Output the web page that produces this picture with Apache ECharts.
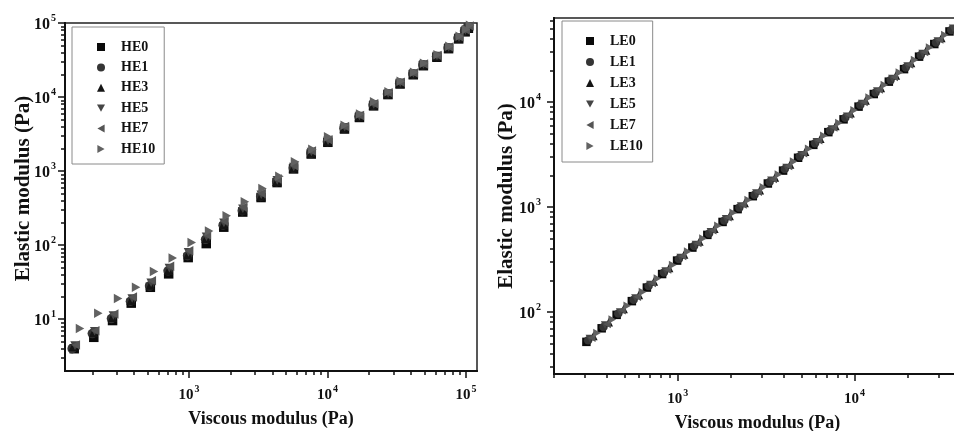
<!DOCTYPE html>
<html><head><meta charset="utf-8">
<script src="https://cdn.jsdelivr.net/npm/echarts@6/dist/echarts.min.js"></script>
<style>html,body{margin:0;padding:0;background:#fff}#c{width:954px;height:431px}</style>
</head><body><div id="c"></div>
<script>
// ---------- data ----------
const heNames = ['HE0','HE1','HE3','HE5','HE7','HE10'];
const leNames = ['LE0','LE1','LE3','LE5','LE7','LE10'];

const HE0_x = [148,205,280,382,525,712,985,1330,1780,2440,3310,4320,5680,7620,10050,13250,17000,21500,27300,33400,41600,49200,61600,74800,88500,98500,104000];
const HE0_y = [4.0,5.7,9.6,16.5,27,41,68,105,175,280,440,700,1070,1700,2450,3700,5300,7600,10800,15000,20000,26500,34500,45000,61000,76000,85000];
const HE1_x = [143,200,275,377,518,705,975,1315,1760,2420,3290,4290,5650,7580,9980,13150,16850,21300,27100,33200,41300,48800,61200,74200,87500,97500,102500];
const HE1_y = [4.0,6.4,10.2,17.5,28,45,72,120,186,292,455,720,1100,1750,2500,3800,5450,7800,11000,15400,20500,27200,35300,46000,62500,78000,87000];
const HE3_x = [146,204,279,381,524,710,980,1325,1772,2432,3305,4305,5670,7610,10020,13220,16920,21420,27220,33320,41520,49050,61450,74600,88200,98200,103500];
const HE3_y = [4.3,6.6,10.6,18,29,46,75,124,190,298,462,730,1110,1770,2520,3830,5480,7850,11050,15450,20600,27300,35400,46200,62800,78300,87500];
const HE5_x = [150,208,284,388,532,720,990,1335,1785,2445,3320,4330,5700,7650,10080,13300,17000,21550,27400,33500,41700,49300,61700,75000,89000,99000,105000];
const HE5_y = [4.4,6.9,11.2,19,31,49,80,130,200,310,480,750,1140,1810,2570,3900,5550,7950,11200,15600,20800,27600,35800,46800,63500,79000,89000];
const HE7_x = [152,210,288,392,538,728,1000,1345,1800,2460,3340,4350,5730,7690,10120,13350,17100,21650,27500,33700,42000,49600,62100,75500,89500,99500,106000];
const HE7_y = [4.5,7.0,11.8,20,33,52,84,137,210,325,500,780,1180,1870,2650,4000,5650,8100,11400,15900,21200,28000,36500,47500,64500,80500,91000];
const HE10_x = [163,221,307,414,558,762,1045,1395,1870,2530,3390,4490,5820,7770,10100,13300,17200,21700,27600,33800,42200,49800,62300,75800,90000,100000,107000];
const HE10_y = [7.5,12,19,27,44,67,109,155,250,385,583,855,1340,1980,2900,4170,5900,8630,11800,16300,21700,28600,37200,48500,66000,82000,93000];

const LE0_x = [305,372,452,551,670,817,993,1211,1472,1795,2183,2661,3236,3945,4797,5848,7112,8670,10540,12850,15630,19050,23170,28250,34430];
const LE0_y = [52,70,94,127,171,230,309,411,543,721,955,1268,1675,2223,2944,3908,5164,6839,9036,11910,15630,20560,27040,35650,46990];
const LE1_x = [312,381,462,564,685,836,1016,1239,1506,1836,2233,2722,3310,4036,4907,5983,7276,8869,10780,13150,15990,19490,23700,28900,35220];
const LE1_y = [54,72,97,131,177,238,320,425,561,746,987,1311,1732,2299,3044,4041,5340,7071,9343,12310,16160,21260,27960,36860,48590];
const LE3_x = [334,408,495,604,734,895,1088,1327,1613,1967,2393,2916,3547,4324,5258,6409,7795,9502,11550,14080,17130,20880,25390,30960];
const LE3_y = [59,80,107,145,195,263,353,469,620,823,1091,1448,1913,2539,3362,4463,5897,7810,10320,13600,17850,23480,30880,40710];
const LE5_x = [319,389,473,577,701,855,1040,1268,1541,1879,2286,2786,3388,4130,5022,6123,7446,9077,11040,13450,16360,19950,24260,29580,36050];
const LE5_y = [56,75,100,136,183,246,330,439,580,771,1021,1355,1791,2376,3147,4178,5520,7311,9659,12730,16710,21980,28910,38110,50230];
const LE7_x = [327,399,485,591,718,876,1065,1298,1578,1924,2340,2853,3469,4229,5142,6269,7624,9294,11300,13780,16760,20420,24840,30280];
const LE7_y = [57,77,104,140,189,254,341,454,600,797,1055,1401,1851,2456,3253,4318,5706,7557,9985,13160,17270,22720,29880,39390];
const LE10_x = [350,427,519,633,769,938,1140,1390,1690,2061,2506,3055,3715,4529,5507,6713,8165,9953,12100,14750,17940,21870,26600,32430];
const LE10_y = [63,85,115,155,209,281,377,501,662,880,1165,1547,2044,2712,3592,4768,6300,8344,11020,14530,19070,25080,32990,43490];

// tick values
const leftXMajor = [1000,10000,100000];
const leftXMinor = [200,300,400,500,600,700,800,900,2000,3000,4000,5000,6000,7000,8000,9000,20000,30000,40000,50000,60000,70000,80000,90000];
const leftYMajor = [10,100,1000,10000,100000];
const leftYMinor = [3,4,5,6,7,8,9,20,30,40,50,60,70,80,90,200,300,400,500,600,700,800,900,2000,3000,4000,5000,6000,7000,8000,9000,20000,30000,40000,50000,60000,70000,80000,90000];
const rightXMajor = [1000,10000];
const rightXMinor = [200,300,400,500,600,700,800,900,2000,3000,4000,5000,6000,7000,8000,9000,20000,30000];
const rightYMajor = [100,1000,10000];
const rightYMinor = [30,40,50,60,70,80,90,200,300,400,500,600,700,800,900,2000,3000,4000,5000,6000,7000,8000,9000,20000,30000,40000,50000,60000];

// ---------- styling ----------
const FONT = 'Liberation Serif, Times New Roman, serif';
const INK = '#111';
const colors = ['#0a0a0a','#353535','#151515','#454545','#555555','#626262'];
const symbols = ['rect','circle','triangle',
  'path://M0,0 L10,0 L5,9 Z',
  'path://M9,0 L9,10 L0,5 Z',
  'path://M0,0 L9,5 L0,10 Z'];

function pw(v){ return Math.round(Math.log10(v)); }
function labelCfg(vals, size, margin){
  return {
    show: true, customValues: vals, margin: margin,
    color: INK, fontFamily: FONT, fontWeight: 'bold', fontSize: size,
    formatter: v => '{b|10}{s|' + pw(v) + '}',
    rich: {
      b: {fontFamily: FONT, fontWeight: 'bold', fontSize: size, color: INK, verticalAlign: 'bottom', lineHeight: size + 2},
      s: {fontFamily: FONT, fontWeight: 'bold', fontSize: 10, color: INK, verticalAlign: 'top', padding: [0,0,9,1]}
    }
  };
}
const tickLine = {color: INK, width: 1.5};
const axisLn = {show: true, onZero: false, lineStyle: {color: INK, width: 2}};
function mainAxis(grid, pos, min, max, major, lsize, lmargin, name, nameGap, nameSize, namePad){
  return {
    type: 'log', logBase: 10, gridIndex: grid, position: pos, min: min, max: max,
    axisLine: axisLn,
    axisTick: {show: true, inside: false, length: 7, customValues: major, lineStyle: tickLine},
    minorTick: {show: false}, splitLine: {show: false},
    axisLabel: labelCfg(major, lsize, lmargin),
    name: name, nameLocation: 'middle', nameGap: nameGap, nameMoveOverlap: false,
    nameTextStyle: {fontFamily: FONT, fontWeight: 'bold', fontSize: nameSize, color: INK, padding: namePad || 0}
  };
}
function minorAxis(grid, pos, min, max, minor){
  return {
    type: 'log', logBase: 10, gridIndex: grid, position: pos, min: min, max: max,
    axisLine: axisLn,
    axisTick: {show: true, inside: false, length: 4, customValues: minor, lineStyle: tickLine},
    axisLabel: {show: false}, splitLine: {show: false}, minorTick: {show: false}
  };
}
function zip(a, b){ return a.map((v, i) => [v, b[i]]); }

const heData = [zip(HE0_x,HE0_y), zip(HE1_x,HE1_y), zip(HE3_x,HE3_y), zip(HE5_x,HE5_y), zip(HE7_x,HE7_y), zip(HE10_x,HE10_y)];
const leData = [zip(LE0_x,LE0_y), zip(LE1_x,LE1_y), zip(LE3_x,LE3_y), zip(LE5_x,LE5_y), zip(LE7_x,LE7_y), zip(LE10_x,LE10_y)];

const series = [];
heNames.forEach((n, i) => series.push({
  type: 'scatter', name: n, xAxisIndex: 0, yAxisIndex: 0,
  symbol: symbols[i], symbolSize: 9.5, symbolKeepAspect: true,
  itemStyle: {color: colors[i], opacity: 1}, data: heData[i]
}));
leNames.forEach((n, i) => series.push({
  type: 'scatter', name: n, xAxisIndex: 2, yAxisIndex: 2,
  symbol: symbols[i], symbolSize: 8.5, symbolKeepAspect: true,
  itemStyle: {color: colors[i], opacity: 1}, data: leData[i]
}));

function legendCfg(names, left, top, pad, gap){
  return {
    data: names, orient: 'vertical', left: left, top: top, padding: pad, itemGap: gap,
    itemWidth: 8, itemHeight: 8, symbolKeepAspect: true,
    borderColor: '#8a8a8a', borderWidth: 1, backgroundColor: '#fff', selectedMode: false,
    textStyle: {fontFamily: FONT, fontWeight: 'bold', fontSize: 14, color: INK, lineHeight: 16, padding: [0,0,0,11]}
  };
}

const option = {
  animation: false,
  backgroundColor: '#fff',
  grid: [
    {left: 65, top: 23, width: 412, height: 348, show: true, borderColor: '#222', borderWidth: 1.5, backgroundColor: 'transparent', outerBoundsMode: 'none', containLabel: false},
    {left: 554, top: 18, width: 407, height: 356, show: true, borderColor: '#222', borderWidth: 1.5, backgroundColor: 'transparent', outerBoundsMode: 'none', containLabel: false}
  ],
  xAxis: [
    mainAxis(0, 'bottom', 127, 120000, leftXMajor, 15, 13, 'Viscous modulus (Pa)', 39, 18),
    minorAxis(0, 'bottom', 127, 120000, leftXMinor),
    mainAxis(1, 'bottom', 200, 40000, rightXMajor, 15, 14, 'Viscous modulus (Pa)', 40, 18),
    minorAxis(1, 'bottom', 200, 40000, rightXMinor)
  ],
  yAxis: [
    mainAxis(0, 'left', 2, 100000, leftYMajor, 16, 9, 'Elastic modulus (Pa)', 31, 21, [0,0,0,17]),
    minorAxis(0, 'left', 2, 100000, leftYMinor),
    mainAxis(1, 'left', 25.7, 63100, rightYMajor, 16, 13, 'Elastic modulus (Pa)', 37, 21),
    minorAxis(1, 'left', 25.7, 63100, rightYMinor)
  ],
  legend: [
    legendCfg(heNames, 72, 27, [12,9,7,25], 4.4),
    legendCfg(leNames, 562, 21, [12,10,8,24], 5)
  ],
  series: series
};

const chart = echarts.init(document.getElementById('c'), null, {renderer: 'canvas'});
chart.setOption(option);
</script>
</body></html>
